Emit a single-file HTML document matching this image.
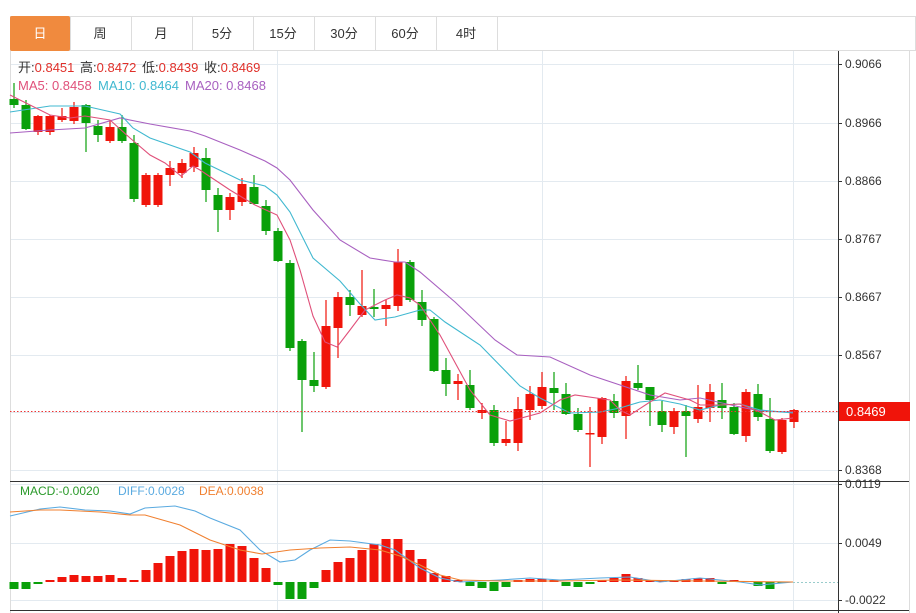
<!DOCTYPE html>
<html><head><meta charset="utf-8"><style>
body{margin:0;background:#fff;width:916px;height:613px;overflow:hidden;font-family:"Liberation Sans","Noto Sans CJK SC",sans-serif}
svg{position:absolute;left:0;top:0}
</style></head><body>
<svg id="s" width="916" height="613" xmlns="http://www.w3.org/2000/svg" font-family="Liberation Sans, Noto Sans CJK SC, sans-serif">
<rect x="10.5" y="16.5" width="905" height="34" fill="#fff" stroke="#ddd"/>
<rect x="10" y="16" width="60" height="35" fill="#f08a3e" rx="2"/>
<g stroke="#ddd"><line x1="70.5" y1="16" x2="70.5" y2="51"/><line x1="131.5" y1="16" x2="131.5" y2="51"/><line x1="192.5" y1="16" x2="192.5" y2="51"/><line x1="253.5" y1="16" x2="253.5" y2="51"/><line x1="314.5" y1="16" x2="314.5" y2="51"/><line x1="375.5" y1="16" x2="375.5" y2="51"/><line x1="436.5" y1="16" x2="436.5" y2="51"/><line x1="497.5" y1="16" x2="497.5" y2="51"/></g>
<g font-size="13" text-anchor="middle" fill="#333"><text x="40" y="38" fill="#fff">日</text><text x="100" y="38">周</text><text x="161" y="38">月</text><text x="222" y="38">5分</text><text x="283" y="38">15分</text><text x="344" y="38">30分</text><text x="405" y="38">60分</text><text x="466" y="38">4时</text></g>
<g id="grid" stroke="#e3eaf0"></g>
<line x1="10.5" y1="51" x2="10.5" y2="613" stroke="#ddd"/>
<line x1="838.5" y1="51" x2="838.5" y2="613" stroke="#333"/>
<line x1="909.5" y1="51" x2="909.5" y2="613" stroke="#ddd"/>
<line x1="10" y1="481.5" x2="909" y2="481.5" stroke="#333"/>
<line x1="10" y1="610.5" x2="909" y2="610.5" stroke="#333"/>
<g id="c"></g>
<line x1="10" y1="411.5" x2="838" y2="411.5" stroke="#e33" stroke-dasharray="1.5,2"/>
<line x1="793" y1="582.5" x2="838" y2="582.5" stroke="#9cc" stroke-dasharray="2,2"/>
<g id="ax" font-size="12" fill="#333"></g>
<rect x="839" y="402" width="71" height="19" fill="#f0140a"/>
<text x="846" y="416" font-size="13" fill="#fff">0.8469</text>
<g font-size="13">
<text x="18" y="72" fill="#333">开:<tspan fill="#e0302a">0.8451</tspan></text>
<text x="80" y="72" fill="#333">高:<tspan fill="#e0302a">0.8472</tspan></text>
<text x="142" y="72" fill="#333">低:<tspan fill="#e0302a">0.8439</tspan></text>
<text x="204" y="72" fill="#333">收:<tspan fill="#e0302a">0.8469</tspan></text>
<text x="18" y="90" fill="#e0507a">MA5: 0.8458</text><text x="98" y="90" fill="#40b8d0">MA10: 0.8464</text><text x="185" y="90" fill="#a860c0">MA20: 0.8468</text></g>
<g font-size="12"><text x="20" y="495" fill="#2a9a2a">MACD:-0.0020</text><text x="118" y="495" fill="#5aaae0">DIFF:0.0028</text><text x="199" y="495" fill="#f08030">DEA:0.0038</text></g>
</svg>
<script>
const NS="http://www.w3.org/2000/svg",s=document.getElementById('c'),g=document.getElementById('grid'),ax=document.getElementById('ax');
function el(p,t,a){const e=document.createElementNS(NS,t);for(const k in a)e.setAttribute(k,a[k]);p.appendChild(e);return e;}
const ys=[64,123,181,239,297,355,412,470];const lb=['0.9066','0.8966','0.8866','0.8767','0.8667','0.8567','','0.8368'];
ys.forEach((y,i)=>{el(g,'line',{x1:10,x2:838,y1:y+.5,y2:y+.5});el(ax,'line',{x1:838,x2:842,y1:y+.5,y2:y+.5,stroke:'#333'});if(lb[i]){const t=el(ax,'text',{x:845,y:y+4});t.textContent=lb[i];}});
[[543,'0.0049'],[484,'0.0119'],[600,'-0.0022']].forEach(([y,l])=>{el(g,'line',{x1:10,x2:838,y1:y+.5,y2:y+.5});el(ax,'line',{x1:838,x2:842,y1:y+.5,y2:y+.5,stroke:'#333'});const t=el(ax,'text',{x:845,y:y+4});t.textContent=l;});
[277,542,793].forEach(x=>el(g,'line',{x1:x+.5,x2:x+.5,y1:51,y2:610}));
const C=[['g',99,105,83,108],['g',105,129,100,130],['r',116,132,115,135],['r',116,132,115,135],['r',116,120,108,122],['r',107,121,102,124],['g',105,123,104,152],['g',126,135,120,142],['r',127,141,120,143],['g',127,141,115,143],['g',143,199,135,202],['r',175,205,173,207],['r',175,205,173,207],['r',168,175,161,186],['r',163,173,159,178],['r',153,167,147,172],['g',158,190,148,202],['g',195,210,188,232],['r',197,210,193,220],['r',184,202,178,206],['g',187,204,175,205],['g',206,231,200,235],['g',231,261,228,262],['g',263,348,260,351],['g',341,380,339,432],['g',380,386,352,392],['r',326,387,300,389],['r',297,328,292,358],['g',297,305,290,316],['r',306,315,270,317],['g',307,309,289,317],['r',305,309,300,326],['r',262,306,249,311],['g',262,300,260,302],['g',302,320,290,326],['g',319,371,317,372],['g',370,384,358,396],['r',381,384,374,400],['g',385,408,370,410],['r',410,413,403,419],['g',410,443,405,446],['r',439,443,421,446],['r',409,443,397,451],['r',394,410,386,420],['r',387,406,372,409],['g',388,393,372,410],['g',394,414,383,415],['g',414,430,408,432],['r',433,434,407,467],['r',398,437,397,444],['g',401,413,394,418],['r',381,416,376,439],['g',383,388,365,390],['g',387,400,387,426],['g',411,425,401,432],['r',411,427,408,434],['g',411,416,405,457],['r',407,419,385,423],['r',392,408,384,422],['g',400,408,383,419],['g',407,434,403,435],['r',392,436,389,442],['g',394,417,384,421],['g',419,451,398,453],['r',420,452,418,454],['r',410,422,409,428]];
const M=[589,589,584,580,577,575,576,576,575,578,580,570,563,556,551,549,550,549,544,546,558,568,585,599,599,588,570,562,558,550,544,539,539,550,559,573,576,580,586,588,591,587,580,579,579,580,586,587,584,580,578,574,578,580,581,580,579,578,578,584,580,581,586,589,583,582];
const R='#f0140a',G='#0aa00a';
C.forEach((c,i)=>{const x=14+i*12.0,col=c[0]=='r'?R:G;el(s,'line',{x1:x,x2:x,y1:c[3],y2:c[4],stroke:col,'stroke-width':1.2});el(s,'rect',{x:x-4.5,y:c[1],width:9,height:Math.max(1.5,c[2]-c[1]),fill:col});
 const m=M[i];if(m!=582){el(s,'rect',{x:x-4.5,y:Math.min(m,582),width:9,height:Math.abs(m-582),fill:m<582?R:G});}});
function pl(pts,col){el(s,'polyline',{points:pts.map(p=>p.join(',')).join(' '),fill:'none',stroke:col,'stroke-width':1.1});}
pl([[10,133],[50,130],[85,128],[120,118],[150,124],[190,131],[205,136],[240,150],[265,161],[277,168],[290,180],[313,210],[340,240],[370,258],[395,262],[405,262],[420,272],[455,302],[495,340],[517,355],[550,357],[590,375],[620,385],[650,395],[680,400],[700,398],[740,407],[760,411],[793,412]],'#a860c0');
pl([[10,112],[50,106],[85,106],[120,114],[133,128],[150,138],[190,152],[205,163],[240,180],[265,186],[277,195],[290,212],[313,258],[340,281],[360,304],[375,320],[395,317],[420,310],[430,310],[445,322],[480,345],[520,386],[540,398],[570,413],[600,412],[620,408],[640,402],[660,400],[680,404],[700,410],[720,405],[740,404],[760,410],[793,413]],'#40b8d0');
pl([[10,95],[30,105],[50,115],[70,118],[85,116],[110,120],[130,138],[150,155],[165,163],[181,176],[193,166],[200,170],[230,190],[255,205],[277,215],[290,240],[300,270],[313,316],[325,342],[337,347],[350,330],[365,310],[385,300],[397,295],[410,298],[420,305],[440,335],[470,390],[490,415],[510,421],[540,413],[560,400],[575,395],[610,400],[620,410],[630,415],[650,402],[665,393],[690,400],[700,405],[720,405],[740,404],[760,412],[775,420],[793,418]],'#e0507a');
pl([[10,516],[40,509],[60,507],[85,510],[110,511],[130,514],[145,508],[175,506],[195,511],[210,518],[240,530],[260,550],[280,562],[295,560],[310,550],[330,540],[350,541],[380,545],[395,550],[420,568],[440,578],[460,582],[500,580],[530,578],[560,580],[600,578],[630,577],[660,582],[700,578],[740,582],[760,585],[793,582]],'#5aaae0');
pl([[10,512],[40,510],[60,510],[100,512],[130,515],[145,515],[180,525],[210,540],[240,550],[262,554],[290,550],[320,548],[350,547],[380,550],[400,556],[420,565],[440,575],[460,580],[500,581],[560,581],[620,580],[700,581],[793,582]],'#f08030');
</script>
</body></html>
